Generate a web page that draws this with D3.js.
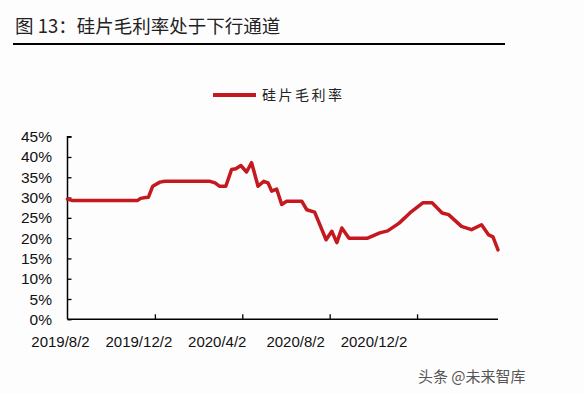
<!DOCTYPE html>
<html>
<head>
<meta charset="utf-8">
<script src="https://cdn.jsdelivr.net/npm/d3@7"></script>
<style>
  body { margin: 0; background: #fefdfe; }
  svg { display: block; }
</style>
</head>
<body>
<script>
// 硅片毛利率
var dates = ["2019-08-02","2019-08-08","2019-11-08","2019-11-12","2019-11-19","2019-11-23","2019-11-29",
  "2019-12-09","2019-12-16","2020-02-17","2020-02-24","2020-03-01","2020-03-10","2020-03-18","2020-03-24",
  "2020-03-31","2020-04-08","2020-04-15","2020-04-24","2020-05-02","2020-05-08","2020-05-13","2020-05-20",
  "2020-05-27","2020-06-03","2020-06-24","2020-07-01","2020-07-12","2020-07-28","2020-08-05","2020-08-12",
  "2020-08-19","2020-08-29","2020-09-24","2020-10-11","2020-10-22","2020-11-07","2020-11-22","2020-12-10",
  "2020-12-23","2021-01-06","2021-01-15","2021-02-02","2021-02-16","2021-03-02","2021-03-12","2021-03-18",
  "2021-03-25"];
var margin = [29.6,29.3,29.3,29.8,30.0,30.1,32.8,
  33.8,34.0,34.0,33.6,32.8,32.8,36.9,37.1,
  37.9,36.3,38.6,32.8,34.0,33.6,31.6,32.1,
  28.3,29.1,29.1,27.0,26.4,19.6,21.7,18.9,
  22.5,20.0,20.0,21.3,21.8,23.7,26.2,28.7,
  28.7,26.2,25.8,22.9,22.1,23.3,20.8,20.3,
  17.1];
var yTicks = [0,5,10,15,20,25,30,35,40,45];
var xTickDates = ["2019-08-02","2019-12-02","2020-04-02","2020-08-02","2020-12-02"];
var xTickLabels = ["2019/8/2","2019/12/2","2020/4/2","2020/8/2","2020/12/2"];

var W = 584, H = 394;
var parse = d3.timeParse("%Y-%m-%d");
var data = dates.map(function(d, i) { return { date: parse(d), v: margin[i] }; });

var svg = d3.select("body").append("svg").attr("width", W).attr("height", H);
svg.append("rect").attr("width", W).attr("height", H).attr("fill", "#fefdfe");

// title
svg.append("text").attr("x", 15).attr("y", 33)
  .attr("font-family", "'Noto Sans CJK SC', sans-serif").attr("font-size", 18.5)
  .attr("fill", "#222").text("图 13：硅片毛利率处于下行通道");
svg.append("line").attr("x1", 13).attr("x2", 505).attr("y1", 44).attr("y2", 44)
  .attr("stroke", "#000").attr("stroke-width", 2);

var x = d3.scaleTime().domain([parse("2019-08-02"), parse("2021-03-25")]).range([67.5, 498]);
var y = d3.scaleLinear().domain([0, 45]).range([319.3, 136.7]);
// labels sit evenly spaced, a bit left of their ticks
var xLab = d3.scalePoint().domain(xTickLabels).range([60.5, 374]);

var font = "Arial, 'Liberation Sans', sans-serif";

// y axis
var gy = svg.append("g").attr("transform", "translate(67.5,0)")
  .call(d3.axisRight(y).tickValues(yTicks).tickSize(4).tickFormat(""));
gy.select(".domain").attr("d", "M4,136.7H0V319.3").attr("stroke", "#000").attr("stroke-width", 1.5);
gy.selectAll(".tick line").attr("stroke", "#000").attr("stroke-width", 1.3);
svg.append("g").selectAll("text").data(yTicks).enter().append("text")
  .attr("x", 52).attr("y", function(d) { return y(d) + 5.5; })
  .attr("text-anchor", "end").attr("font-family", font).attr("font-size", 15.5).attr("fill", "#111")
  .text(function(d) { return d + "%"; });

// x axis
var gx = svg.append("g").attr("transform", "translate(0,319.3)")
  .call(d3.axisTop(x).tickValues(xTickDates.slice(1).map(parse)).tickSize(5).tickFormat(""));
gx.select(".domain").attr("d", "M67.5,0H498").attr("stroke", "#000").attr("stroke-width", 1.5);
gx.selectAll(".tick line").attr("stroke", "#000").attr("stroke-width", 1.3);
svg.append("g").selectAll("text").data(xTickLabels).enter().append("text")
  .attr("x", function(d) { return xLab(d); }).attr("y", 346.5)
  .attr("text-anchor", "middle").attr("font-family", font).attr("font-size", 15).attr("fill", "#111")
  .text(function(d) { return d; });

// series line
var line = d3.line().x(function(d) { return x(d.date); }).y(function(d) { return y(d.v); });
svg.append("path").datum(data).attr("d", line)
  .attr("fill", "none").attr("stroke", "#c41a1f").attr("stroke-width", 3.5)
  .attr("stroke-linejoin", "round").attr("stroke-linecap", "round");

// legend
svg.append("line").attr("x1", 213).attr("x2", 256).attr("y1", 95).attr("y2", 95)
  .attr("stroke", "#c41a1f").attr("stroke-width", 4);
svg.append("text").attr("x", 262).attr("y", 100)
  .attr("font-family", "'Noto Sans CJK SC', sans-serif").attr("font-size", 14)
  .attr("letter-spacing", 2.5).attr("fill", "#222").text("硅片毛利率");

// watermark
svg.append("text").attr("x", 418).attr("y", 382)
  .attr("font-family", "'Noto Sans CJK SC', sans-serif").attr("font-size", 15)
  .attr("fill", "#555").text("头条 @未来智库");
</script>
</body>
</html>
